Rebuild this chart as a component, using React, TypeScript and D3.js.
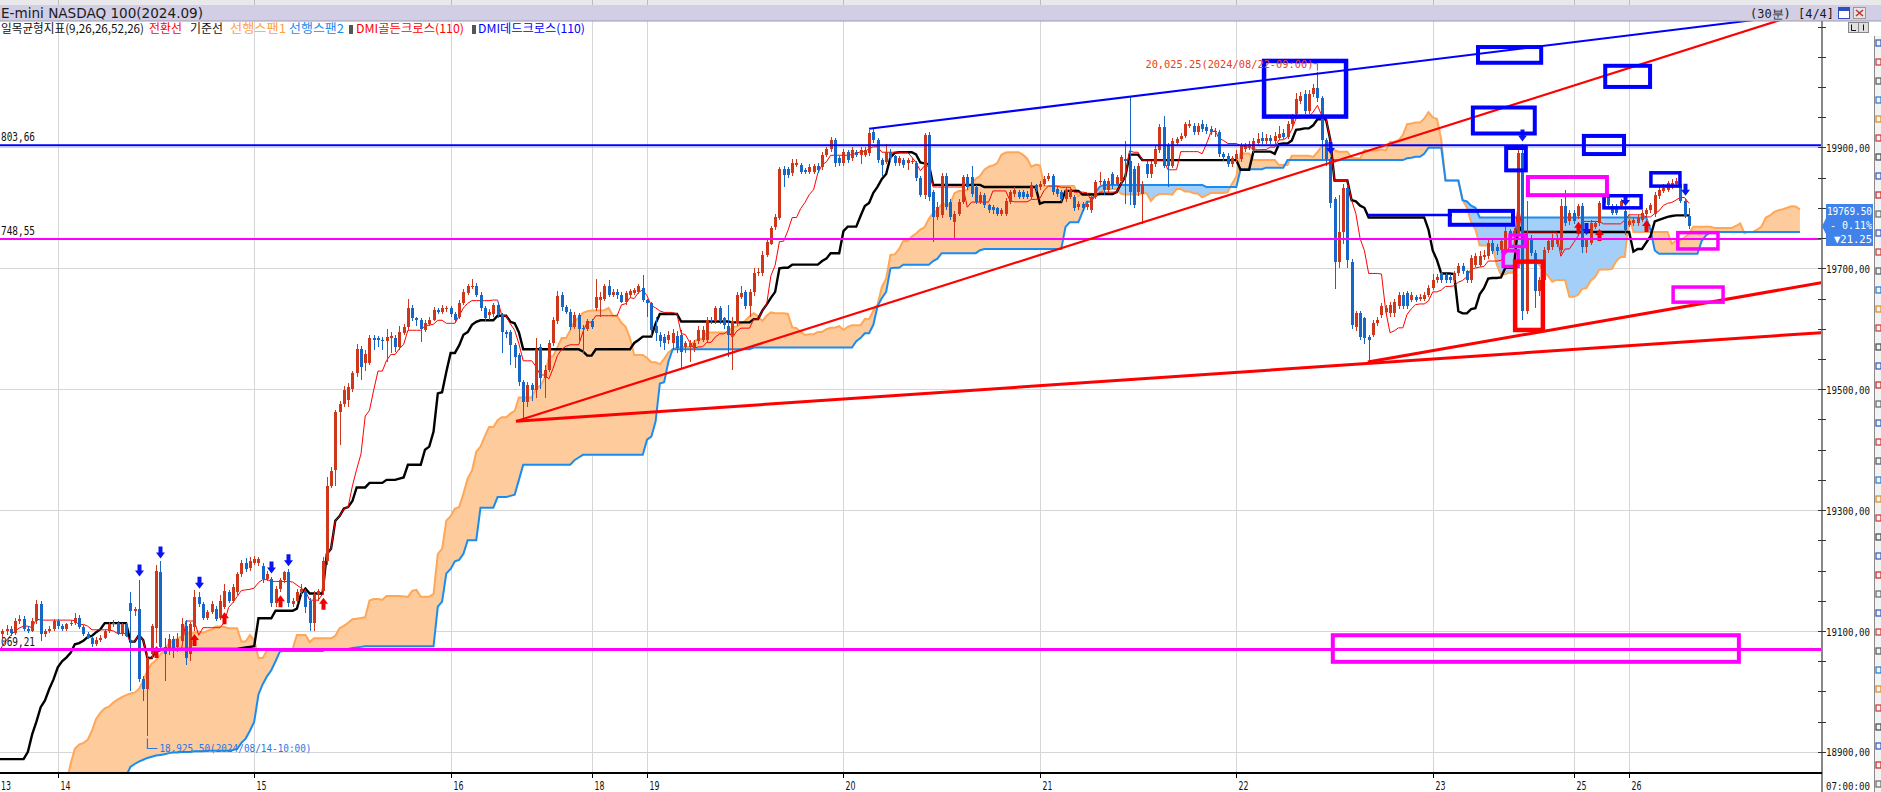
import React from 'react';
import * as d3 from 'd3';

// ---------- DATA (30-minute bars, E-mini NASDAQ 100 Sep 2024) ----------
const opens = [
19090,19095,19100,19103,19096,19117,19120,19103,19100,19117,
19145,19095,19100,19103,19117,19108,19103,19111,19114,19122,
19106,19095,19089,19078,19085,19089,19100,19111,19113,19095,
19111,19147,19133,19136,19020,19004,19062,19105,19198,19073,
19067,19087,19073,19084,19108,19062,19106,19156,19145,19122,
19131,19136,19122,19139,19164,19150,19164,19194,19213,19205,
19213,19213,19208,19186,19186,19146,19169,19184,19197,19145,
19150,19164,19166,19150,19114,19161,19166,19216,19340,19366,
19462,19476,19482,19501,19526,19567,19543,19543,19584,19584,
19582,19580,19584,19585,19569,19593,19603,19634,19617,19615,
19598,19608,19615,19631,19628,19632,19634,19625,19620,19643,
19659,19670,19670,19656,19634,19623,19625,19639,19623,19595,
19595,19573,19556,19512,19479,19507,19498,19569,19518,19531,
19576,19612,19656,19636,19628,19603,19623,19602,19600,19612,
19634,19648,19650,19670,19656,19661,19656,19645,19656,19659,
19661,19667,19648,19642,19604,19590,19587,19582,19576,19588,
19590,19570,19570,19568,19579,19581,19581,19615,19612,19634,
19617,19604,19590,19609,19653,19660,19637,19661,19692,19692,
19722,19741,19769,19783,19865,19865,19857,19871,19871,19862,
19860,19860,19869,19868,19887,19897,19912,19882,19874,19893,
19882,19893,19887,19887,19890,19926,19912,19879,19876,19893,
19885,19874,19879,19874,19876,19874,19849,19821,19920,19827,
19785,19788,19853,19810,19777,19790,19810,19851,19851,19834,
19810,19821,19804,19801,19799,19790,19790,19810,19823,19826,
19826,19823,19818,19837,19834,19840,19848,19852,19831,19826,
19815,19818,19818,19801,19807,19801,19796,19818,19842,19845,
19829,19856,19840,19845,19881,19878,19864,19826,19823,19873,
19856,19873,19895,19933,19903,19870,19908,19914,19919,19936,
19936,19925,19938,19933,19930,19927,19925,19889,19886,19873,
19881,19881,19897,19900,19895,19908,19916,19911,19916,19911,
19916,19924,19918,19938,19955,19977,19988,19960,19988,19999,
19982,19913,19880,19814,19711,19760,19833,19711,19603,19626,
19617,19587,19590,19609,19623,19628,19626,19626,19637,19656,
19659,19648,19653,19650,19650,19656,19667,19681,19692,19689,
19686,19681,19692,19703,19695,19681,19706,19706,19718,19720,
19742,19736,19731,19731,19761,19753,19753,19891,19630,19750,
19725,19662,19681,19731,19736,19740,19731,19803,19778,19792,
19786,19803,19736,19742,19769,19775,19808,19819,19803,19803,
19803,19794,19772,19775,19775,19780,19789,19797,19789,19819,
19828,19830,19836,19839,19839,19811,19786
];
const highs = [
19098,19104,19110,19108,19122,19126,19124,19108,19121,19152,
19150,19104,19108,19120,19120,19112,19114,19118,19130,19126,
19110,19098,19092,19090,19094,19104,19115,19118,19116,19114,
19114,19164,19140,19185,19025,19062,19112,19210,19215,19088,
19095,19092,19096,19122,19118,19115,19168,19165,19148,19135,
19150,19142,19160,19178,19168,19178,19198,19218,19220,19222,
19224,19222,19212,19200,19190,19175,19188,19200,19202,19155,
19170,19178,19170,19155,19166,19170,19222,19355,19372,19465,
19480,19505,19510,19530,19575,19572,19565,19590,19590,19588,
19586,19600,19594,19590,19604,19608,19650,19640,19620,19618,
19614,19620,19636,19634,19640,19638,19638,19628,19648,19665,
19674,19683,19676,19660,19638,19632,19642,19645,19626,19598,
19598,19576,19560,19515,19512,19510,19585,19575,19540,19582,
19620,19662,19660,19640,19632,19628,19626,19606,19616,19616,
19683,19660,19674,19680,19666,19666,19660,19662,19666,19668,
19674,19689,19650,19645,19620,19595,19592,19596,19600,19596,
19598,19580,19582,19582,19605,19604,19620,19620,19638,19638,
19620,19639,19620,19660,19670,19664,19665,19700,19700,19728,
19748,19770,19790,19868,19870,19868,19880,19880,19874,19866,
19872,19872,19874,19892,19900,19918,19916,19886,19898,19896,
19900,19896,19900,19900,19928,19932,19916,19882,19905,19898,
19888,19886,19882,19883,19882,19878,19852,19924,19925,19830,
19810,19858,19858,19815,19795,19815,19855,19856,19870,19838,
19826,19824,19807,19805,19802,19800,19816,19830,19834,19830,
19830,19828,19842,19840,19845,19852,19858,19856,19834,19830,
19834,19834,19822,19812,19810,19812,19822,19846,19860,19848,
19850,19860,19855,19888,19911,19984,19870,19875,19845,19878,
19878,19902,19938,19952,19908,19916,19918,19924,19942,19945,
19940,19940,19945,19938,19935,19932,19928,19892,19890,19886,
19895,19908,19908,19910,19916,19924,19925,19922,19920,19925,
19935,19930,19944,19955,19990,19992,19995,19995,20005,20025.25,
19985,19916,19884,19818,19822,19840,19838,19715,19630,19630,
19620,19590,19614,19620,19642,19640,19644,19650,19660,19660,
19662,19660,19656,19658,19660,19672,19690,19690,19696,19692,
19690,19696,19708,19708,19698,19722,19725,19728,19730,19748,
19746,19740,19750,19770,19765,19766,19900,19905,19812,19755,
19730,19685,19735,19748,19756,19755,19815,19830,19797,19796,
19806,19808,19750,19780,19778,19812,19822,19822,19806,19806,
19815,19798,19782,19785,19788,19796,19800,19808,19826,19835,
19840,19845,19848,19850,19848,19815,19800
];
const lows = [
19085,19088,19094,19092,19094,19112,19100,19096,19098,19112,
19084,19090,19097,19100,19104,19100,19100,19108,19110,19104,
19092,19086,19074,19075,19082,19086,19097,19106,19093,19092,
19090,19001,19125,19015,18985,18925.5,19056,19080,19068,19018,
19060,19055,19066,19078,19043,19050,19100,19140,19118,19118,
19128,19116,19118,19136,19146,19146,19160,19190,19198,19200,
19210,19208,19180,19182,19140,19140,19164,19180,19140,19140,
19145,19160,19130,19100,19100,19150,19160,19210,19336,19340,
19408,19470,19470,19495,19520,19515,19530,19540,19565,19570,
19565,19545,19560,19562,19565,19590,19598,19612,19605,19578,
19595,19604,19612,19625,19624,19628,19620,19610,19616,19640,
19656,19666,19652,19630,19612,19615,19620,19618,19560,19585,
19540,19535,19505,19449,19470,19480,19485,19500,19485,19528,
19572,19608,19630,19624,19598,19600,19580,19560,19596,19600,
19630,19620,19646,19652,19652,19650,19642,19640,19652,19656,
19657,19645,19620,19588,19580,19570,19565,19575,19565,19560,
19535,19560,19545,19562,19575,19578,19578,19608,19608,19608,
19600,19554,19532,19605,19650,19632,19620,19655,19688,19688,
19718,19738,19764,19780,19835,19850,19852,19868,19856,19856,
19856,19856,19858,19862,19884,19893,19868,19870,19870,19875,
19878,19884,19872,19884,19886,19908,19874,19852,19872,19878,
19870,19870,19866,19862,19872,19845,19818,19815,19812,19744,
19780,19784,19796,19780,19749,19786,19806,19830,19818,19806,
19806,19800,19792,19790,19786,19786,19786,19806,19818,19814,
19814,19814,19814,19826,19830,19836,19844,19822,19818,19810,
19810,19814,19794,19796,19794,19796,19792,19814,19838,19822,
19825,19832,19836,19840,19807,19805,19800,19820,19774,19850,
19850,19868,19890,19866,19834,19866,19904,19910,19915,19932,
19920,19920,19926,19922,19920,19918,19884,19878,19868,19868,
19876,19876,19892,19895,19890,19904,19906,19906,19906,19906,
19912,19914,19914,19934,19950,19972,19955,19955,19984,19975,
19880,19870,19800,19665,19700,19740,19700,19600,19596,19582,
19575,19543,19586,19604,19618,19624,19620,19620,19632,19632,
19632,19644,19644,19646,19646,19652,19664,19676,19676,19676,
19676,19676,19688,19690,19676,19676,19702,19702,19714,19716,
19724,19722,19726,19726,19742,19748,19748,19615,19625,19720,
19634,19655,19676,19726,19730,19735,19725,19770,19772,19774,
19782,19725,19725,19738,19765,19770,19804,19800,19788,19788,
19798,19755,19768,19770,19770,19776,19785,19792,19785,19815,
19824,19826,19832,19835,19808,19784,19765
];
const closes = [
19095,19100,19103,19096,19117,19120,19103,19100,19117,19145,
19095,19100,19103,19117,19108,19103,19111,19114,19122,19106,
19095,19089,19078,19085,19089,19100,19111,19113,19095,19111,
19092,19133,19136,19020,19004,19056,19109,19200,19073,19062,
19087,19070,19087,19111,19056,19111,19156,19145,19122,19131,
19144,19120,19150,19166,19150,19172,19194,19213,19202,19216,
19219,19219,19186,19194,19146,19169,19184,19197,19147,19150,
19164,19169,19139,19114,19161,19166,19216,19340,19365,19462,
19476,19498,19504,19526,19567,19537,19559,19584,19581,19581,
19580,19586,19588,19569,19595,19603,19634,19617,19615,19600,
19609,19615,19631,19628,19634,19635,19625,19614,19643,19661,
19670,19671,19656,19634,19617,19628,19639,19623,19595,19592,
19573,19554,19512,19479,19507,19498,19567,19518,19531,19576,
19614,19654,19636,19628,19603,19623,19600,19600,19612,19603,
19653,19653,19670,19656,19661,19656,19645,19659,19662,19664,
19670,19648,19642,19598,19593,19579,19576,19590,19593,19568,
19562,19576,19577,19576,19598,19598,19615,19612,19634,19612,
19606,19590,19612,19656,19659,19637,19661,19692,19694,19722,
19744,19766,19785,19865,19854,19854,19874,19875,19860,19860,
19868,19869,19862,19888,19897,19913,19874,19874,19893,19879,
19896,19887,19896,19896,19923,19912,19879,19871,19893,19882,
19874,19882,19871,19879,19878,19849,19821,19920,19818,19785,
19802,19853,19801,19785,19790,19810,19851,19834,19823,19810,
19821,19804,19796,19796,19790,19796,19812,19826,19829,19818,
19818,19818,19837,19831,19840,19848,19852,19826,19823,19815,
19829,19829,19799,19807,19799,19807,19818,19842,19845,19829,
19845,19837,19851,19884,19878,19826,19804,19870,19840,19856,
19873,19897,19933,19870,19870,19911,19914,19919,19938,19938,
19925,19936,19930,19927,19925,19925,19889,19884,19873,19882,
19889,19903,19903,19905,19911,19914,19911,19916,19911,19919,
19922,19918,19938,19949,19980,19985,19960,19988,19999,19982,
19913,19880,19808,19711,19760,19833,19714,19606,19626,19587,
19584,19581,19609,19615,19637,19634,19639,19645,19656,19637,
19637,19656,19648,19653,19656,19667,19681,19686,19681,19681,
19681,19692,19703,19695,19681,19717,19720,19720,19722,19742,
19728,19728,19745,19761,19747,19761,19891,19630,19750,19725,
19662,19681,19731,19745,19750,19750,19803,19775,19792,19778,
19803,19736,19747,19775,19775,19808,19819,19805,19792,19792,
19811,19764,19778,19780,19783,19792,19797,19805,19822,19830,
19833,19841,19841,19844,19811,19786,19769.5
];

// indicator values visible at the left edge (history before the window)
const tenkanEarly = [19062, 19075, 19085, 19093, 19100, 19105, 19108, 19108];
const kijunEarly = [18888, 18888, 18888, 18888, 18888, 18888, 18888, 18900, 18929, 18950, 18974, 18985, 19004, 19020, 19040, 19050, 19056, 19064, 19078, 19080, 19084, 19090, 19092, 19098, 19103];
const spanAEarly = [18760, 18768, 18775, 18782, 18790, 18797, 18805, 18812, 18818, 18824, 18830, 18835, 18838, 18840, 18842, 18845, 18848, 18880, 18905, 18912, 18915, 18920, 18935, 18955, 18965, 18972];
const spanBEarly = [
18790,18790,18790,18790,18790,18790,18790,18790,18790,18790,
18790,18790,18790,18790,18790,18790,18790,18790,18790,18790,
18790,18790,18790,18790,18790,18790,18800,18815,18830,18845,
18860,18875,18880,18884,18887,18890,18892,18894,18895,18896,
18898,18899,18899,18900,18900,18900,18901,18901,18901,18902,
18902,18902,18902,18902,18902,18903,18905,18915,18922,18935,
18950,18995,19012,19025,19035,19050,19066,19067,19067,19067,
19067,19067,19067,19067,19067,19067,19067
];

const dayTickBars = [14, 60, 106, 139, 152, 198, 244, 290, 336, 369, 382];
const dayTickLabels = ['14', '15', '16', '18', '19', '20', '21', '22', '23', '25', '26'];
const firstDayLabel = '13';
const priceTicks = [19900, 19700, 19500, 19300, 19100, 18900];
const priceTickLabels = ['19900,00', '19700,00', '19500,00', '19300,00', '19100,00', '18900,00'];

const goldenCross = [37, 46, 53, 66, 76, 370, 375, 386];
const deadCross = [33, 38, 47, 64, 68, 312, 357, 372, 381, 395];

const hLineValues = [19903.66, 19748.55, 19069.21];
const hLineColors = ['#0000ff', '#ff00ff', '#ff00ff'];
const hLineWidths = [2, 2, 3];
const hLineLabels = ['803,66', '748,55', '069,21'];

// trend lines: [bar1, price1, bar2, price2, color, width]
const trendLines = [
  [204, 19931, 430, 20127, '#0000ff', 2],
  [121.3, 19447, 430, 20139, '#ff0000', 2.2],
  [121.3, 19447, 430, 19595, '#ff0000', 3],
  [320.8, 19545, 430, 19680, '#ff0000', 3],
  [320.8, 19788, 340.5, 19788, '#0000ff', 2.5],
];

// boxes: [bar1, bar2, priceTop, priceBottom, color, width]
const boxes = [
  [296.5, 315.7, 20043, 19951, '#0000ff', 4.5],
  [346.6, 361.4, 20066, 20040, '#0000ff', 4],
  [376.4, 386.9, 20035, 20000, '#0000ff', 4],
  [345.4, 359.9, 19966, 19923, '#0000ff', 4],
  [371.4, 380.8, 19919, 19889, '#0000ff', 4],
  [353.2, 357.8, 19899, 19862, '#0000ff', 4],
  [340.0, 354.8, 19795, 19772, '#0000ff', 4],
  [376.1, 384.8, 19820, 19800, '#0000ff', 3.5],
  [387.1, 393.9, 19858, 19836, '#0000ff', 3.5],
  [358.3, 376.8, 19851, 19821, '#ff00ff', 4],
  [354.1, 357.8, 19755, 19736, '#ff00ff', 3.5],
  [352.5, 356.0, 19729, 19703, '#ff00ff', 3.5],
  [355.3, 361.8, 19711, 19598, '#ff0000', 4.5],
  [393.4, 402.8, 19759, 19732, '#ff00ff', 3.5],
  [392.3, 404.0, 19669, 19644, '#ff00ff', 3.5],
  [312.6, 407.7, 19093, 19049, '#ff00ff', 4],
];

const highBar = 309;
const highText = '20,025.25(2024/08/22-09:00)';
const lowBar = 35;
const lowText = '18,925.50(2024/08/14-10:00)';

const toolIconColors = ['#3355bb', '#cc3333', '#555555', '#2277cc', '#dd8822', '#cc3333', '#444444', '#3355bb', '#cc2222', '#666666'];

const W = 1881, H = 792;
const PL = 0, PR = 1821, PT = 21, PB = 772;

const UP = '#d0361a';
const DOWN = '#1767c8';

export default function App() {
  const N = closes.length;
  const x = d3.scaleLinear().domain([0, 396]).range([-2, -2 + 396 * 4.27]);
  const y = d3.scaleLinear().domain([18900, 19900]).range([751.9, 147.4]);

  const mid = (a: number, b: number) => {
    let h = -Infinity, l = Infinity;
    for (let k = a; k <= b; k++) { if (highs[k] > h) h = highs[k]; if (lows[k] < l) l = lows[k]; }
    return (h + l) / 2;
  };
  const tenkan = closes.map((_, i) => (i < 8 ? tenkanEarly[i] : mid(i - 8, i)));
  const kijun = closes.map((_, i) => (i < 25 ? kijunEarly[i] : mid(i - 25, i)));
  const M = N + 26;
  const jIdx = d3.range(M);
  const spanA = jIdx.map(j => (j < 26 ? spanAEarly[j] : (tenkan[j - 26] + kijun[j - 26]) / 2));
  const spanB = jIdx.map(j => (j < 77 ? spanBEarly[j] : mid(j - 77, j - 26)));

  const areaAB = d3.area<number>().x(j => x(j)).y0(j => y(spanA[j])).y1(j => y(spanB[j]));
  const aboveB = d3.area<number>().x(j => x(j)).y0(0).y1(j => y(spanB[j]));
  const belowB = d3.area<number>().x(j => x(j)).y0(j => y(spanB[j])).y1(H);
  const lineFor = (arr: number[]) => d3.line<number>().x(j => x(j)).y(j => y(arr[j]));
  const iIdx = d3.range(N);

  const downArrow = (cx: number, t: number) =>
    `M${cx - 2},${t - 12}H${cx + 2}V${t - 6}H${cx + 4.5}L${cx},${t}L${cx - 4.5},${t - 6}H${cx - 2}Z`;
  const upArrow = (cx: number, t: number) =>
    `M${cx - 2},${t + 12}H${cx + 2}V${t + 6}H${cx + 4.5}L${cx},${t}L${cx - 4.5},${t + 6}H${cx - 2}Z`;

  const gridXs = dayTickBars.map(b => Math.round(x(b)) + 0.5);
  const minorTicks = d3.range(18850, 20101, 50);

  const hx = x(highBar), hy = y(highs[highBar]);
  const lx = x(lowBar), ly = y(lows[lowBar]);
  const cur = closes[N - 1];
  const cy = y(cur);

  const mono = '"DejaVu Sans Mono", monospace';
  const kr = '"Noto Sans CJK KR", "Noto Sans", sans-serif';
  const iconYs = d3.range(30, 780, 19);

  return (
    <div style={{ position: 'absolute', left: 0, top: 0, width: W, height: H, background: '#fff' }}>
      <svg width={W} height={H} style={{ display: 'block' }}>
        <defs>
          <clipPath id="plot"><rect x={PL} y={PT} width={PR - PL} height={PB - PT} /></clipPath>
          <clipPath id="aboveB"><path d={aboveB(jIdx) || ''} /></clipPath>
          <clipPath id="belowB"><path d={belowB(jIdx) || ''} /></clipPath>
        </defs>
        <rect x={0} y={0} width={W} height={H} fill="#fff" />

        {/* top strip (previous pane) */}
        <rect x={0} y={0} width={W} height={5} fill="#e9e9ec" />
        {gridXs.map((gx, k) => <line key={'tg' + k} x1={gx} x2={gx} y1={0} y2={5} stroke="#bdbdbd" />)}

        {/* gridlines */}
        <g shapeRendering="crispEdges">
          {gridXs.map((gx, k) => <line key={'gx' + k} x1={gx} x2={gx} y1={PT} y2={PB} stroke="#d6d6d6" />)}
          {priceTicks.map((p, k) => <line key={'gy' + k} x1={PL} x2={PR} y1={Math.round(y(p)) + 0.5} y2={Math.round(y(p)) + 0.5} stroke="#d6d6d6" />)}
        </g>

        <g clipPath="url(#plot)">
          {/* cloud */}
          <g clipPath="url(#aboveB)"><path d={areaAB(jIdx) || ''} fill="#fdcb9c" /></g>
          <g clipPath="url(#belowB)"><path d={areaAB(jIdx) || ''} fill="#a3cff8" /></g>
          <path d={lineFor(spanA)(jIdx) || ''} fill="none" stroke="#ffa756" strokeWidth={2} />
          <path d={lineFor(spanB)(jIdx) || ''} fill="none" stroke="#1a8cf0" strokeWidth={2} />
          {/* kijun / tenkan */}
          <path d={lineFor(kijun)(iIdx) || ''} fill="none" stroke="#000" strokeWidth={2.4} />
          <path d={lineFor(tenkan)(iIdx) || ''} fill="none" stroke="#ff0000" strokeWidth={1} />

          {/* candles */}
          <g shapeRendering="crispEdges">
            {iIdx.map(i => {
              const cx = Math.round(x(i));
              const o = opens[i], c = closes[i];
              const col = c >= o ? UP : DOWN;
              const top = Math.round(y(Math.max(o, c)));
              const bot = Math.round(y(Math.min(o, c)));
              return (
                <g key={'c' + i}>
                  <rect x={cx} y={Math.round(y(highs[i]))} width={1} height={Math.max(1, Math.round(y(lows[i])) - Math.round(y(highs[i])))} fill={col} />
                  <rect x={cx - 1} y={top} width={3} height={Math.max(1, bot - top)} fill={col} />
                </g>
              );
            })}
          </g>

          {/* DMI signals */}
          {deadCross.map(i => <path key={'d' + i} d={downArrow(Math.round(x(i)) + 0.5, y(highs[i]) - 3)} fill="#0a14f0" />)}
          {goldenCross.map(i => <path key={'g' + i} d={upArrow(Math.round(x(i)) + 0.5, y(lows[i]) + 3)} fill="#f00000" />)}

          {/* horizontal lines */}
          {hLineValues.map((v, k) => (
            <g key={'h' + k}>
              <line x1={PL} x2={PR} y1={y(v)} y2={y(v)} stroke={hLineColors[k]} strokeWidth={hLineWidths[k]} />
              <text x={1} y={y(v) - 4} fontFamily={mono} fontSize={12} fill="#111" textLength={34} lengthAdjust="spacingAndGlyphs">{hLineLabels[k]}</text>
            </g>
          ))}

          {/* trend lines */}
          {trendLines.map((t, k) => (
            <line key={'t' + k} x1={x(t[0] as number)} y1={y(t[1] as number)} x2={x(t[2] as number)} y2={y(t[3] as number)} stroke={t[4] as string} strokeWidth={t[5] as number} />
          ))}

          {/* boxes */}
          {boxes.map((b, k) => {
            const x1 = x(b[0] as number), x2 = x(b[1] as number);
            const y1 = y(b[2] as number), y2 = y(b[3] as number);
            return <rect key={'b' + k} x={x1} y={y1} width={x2 - x1} height={y2 - y1} fill="none" stroke={b[4] as string} strokeWidth={b[5] as number} />;
          })}

          {/* high / low annotations */}
          <text x={hx - 4} y={hy - 4} textAnchor="end" fontFamily={mono} fontSize={11} fill="#e8401c" textLength={168} lengthAdjust="spacingAndGlyphs">{highText}</text>
          <path d={`M${hx - 4},${hy - 8}H${hx}V${hy - 1}`} fill="none" stroke="#e8401c" strokeWidth={1} />
          <path d={`M${lx},${ly + 2}V${ly + 12}H${lx + 10}`} fill="none" stroke="#2a78e0" strokeWidth={1.2} />
          <text x={lx + 12} y={ly + 16} fontFamily={mono} fontSize={11} fill="#2a78e0" textLength={152} lengthAdjust="spacingAndGlyphs">{lowText}</text>
        </g>

        {/* title bar */}
        <rect x={0} y={5} width={W} height={16} fill="#d1cee5" />
        <line x1={0} x2={W} y1={21} y2={21} stroke="#9c9aae" />
        <text x={1} y={18} fontFamily={'"DejaVu Sans", sans-serif'} fontSize={14} fill="#1c1c1c" textLength={202} lengthAdjust="spacingAndGlyphs">E-mini NASDAQ 100(2024.09)</text>
        <text x={1750} y={18} fontFamily={'"DejaVu Sans Mono", monospace'} fontSize={12} fill="#1c1c1c" textLength={84} lengthAdjust="spacingAndGlyphs">(30분) [4/4]</text>
        <rect x={1838.5} y={7.5} width={11} height={11} fill="#fff" stroke="#3050c0" />
        <rect x={1839} y={8} width={10} height={3} fill="#3050c0" />
        <rect x={1853.5} y={7.5} width={12} height={11} fill="#e4e4e4" stroke="#999" />
        <path d="M1856,10L1863,16M1863,10L1856,16" stroke="#c03030" strokeWidth={1.5} />

        {/* legend */}
        <g fontFamily={kr} fontSize={12}>
          <text x={1} y={33} fill="#111" textLength={143} lengthAdjust="spacingAndGlyphs">일목균형지표(9,26,26,52,26)</text>
          <text x={149} y={33} fill="#ff0000" textLength={33} lengthAdjust="spacingAndGlyphs">전환선</text>
          <text x={190} y={33} fill="#111" textLength={33} lengthAdjust="spacingAndGlyphs">기준선</text>
          <text x={230} y={33} fill="#ffa040" textLength={56} lengthAdjust="spacingAndGlyphs">선행스팬1</text>
          <text x={289} y={33} fill="#1a8cf0" textLength={55} lengthAdjust="spacingAndGlyphs">선행스팬2</text>
          <rect x={349} y={25} width={4} height={9} fill="#555" />
          <text x={356} y={33} fill="#ff0000" textLength={108} lengthAdjust="spacingAndGlyphs">DMI골든크로스(110)</text>
          <rect x={472} y={25} width={4} height={9} fill="#555" />
          <text x={478} y={33} fill="#0000ff" textLength={107} lengthAdjust="spacingAndGlyphs">DMI데드크로스(110)</text>
        </g>
        <rect x={1848.5} y={22.5} width={10} height={10} fill="#e0e0e0" stroke="#888" />
        <rect x={1858.5} y={22.5} width={10} height={10} fill="#e0e0e0" stroke="#888" />
        <path d="M1851.5,24.5V30.5H1856M1863.5,24.5V30.5" stroke="#111" fill="none" />

        {/* right tool strip */}
        <rect x={1874} y={36} width={7} height={756} fill="#f3f3f3" />
        <line x1={1874.5} x2={1874.5} y1={36} y2={792} stroke="#8a8a8a" />
        {iconYs.map((iy, k) => (
          <rect key={'ic' + k} x={1876} y={iy + 10} width={5} height={6} fill="none" stroke={toolIconColors[k % toolIconColors.length]} strokeWidth={1.2} />
        ))}

        {/* right axis */}
        <line x1={PR + 1} x2={PR + 1} y1={PT} y2={PB + 20} stroke="#888" strokeWidth={2} />
        {minorTicks.map(p => (y(p) > PT + 2 && y(p) < PB ? <line key={'mt' + p} x1={PR - 3} x2={PR + 5} y1={Math.round(y(p)) + 0.5} y2={Math.round(y(p)) + 0.5} stroke="#333" /> : null))}
        {priceTicks.map((p, k) => (
          <text key={'pl' + k} x={1826} y={y(p) + 4.5} fontFamily={mono} fontSize={11} fill="#111" textLength={44} lengthAdjust="spacingAndGlyphs">{priceTickLabels[k]}</text>
        ))}

        {/* current price box */}
        <path d={`M${PR + 1},${cy}L${1826},${cy - 8}V204H1873V246H1826V${cy + 8}Z`} fill="#3f82ea" />
        <g fontFamily={mono} fontSize={11} fill="#fff">
          <text x={1827} y={215} textLength={45} lengthAdjust="spacingAndGlyphs">{cur.toFixed(2)}</text>
          <text x={1830} y={229} textLength={42} lengthAdjust="spacingAndGlyphs">- 0.11%</text>
          <text x={1834} y={243} textLength={38} lengthAdjust="spacingAndGlyphs">▼21.25</text>
        </g>

        {/* bottom axis */}
        <line x1={0} x2={PR + 1} y1={PB + 1} y2={PB + 1} stroke="#000" strokeWidth={2} />
        {gridXs.map((gx, k) => <line key={'bt' + k} x1={gx} x2={gx} y1={PB + 2} y2={PB + 6} stroke="#000" />)}
        <text x={1} y={790} fontFamily={'"DejaVu Sans", sans-serif'} fontSize={13} fill="#111" textLength={10} lengthAdjust="spacingAndGlyphs">{firstDayLabel}</text>
        {dayTickLabels.map((lab, k) => (
          <text key={'dl' + k} x={gridXs[k] + 2} y={790} fontFamily={'"DejaVu Sans", sans-serif'} fontSize={13} fill="#111" textLength={10} lengthAdjust="spacingAndGlyphs">{lab}</text>
        ))}
        <text x={1826} y={790} fontFamily={mono} fontSize={11} fill="#111" textLength={44} lengthAdjust="spacingAndGlyphs">07:00:00</text>
      </svg>
    </div>
  );
}
